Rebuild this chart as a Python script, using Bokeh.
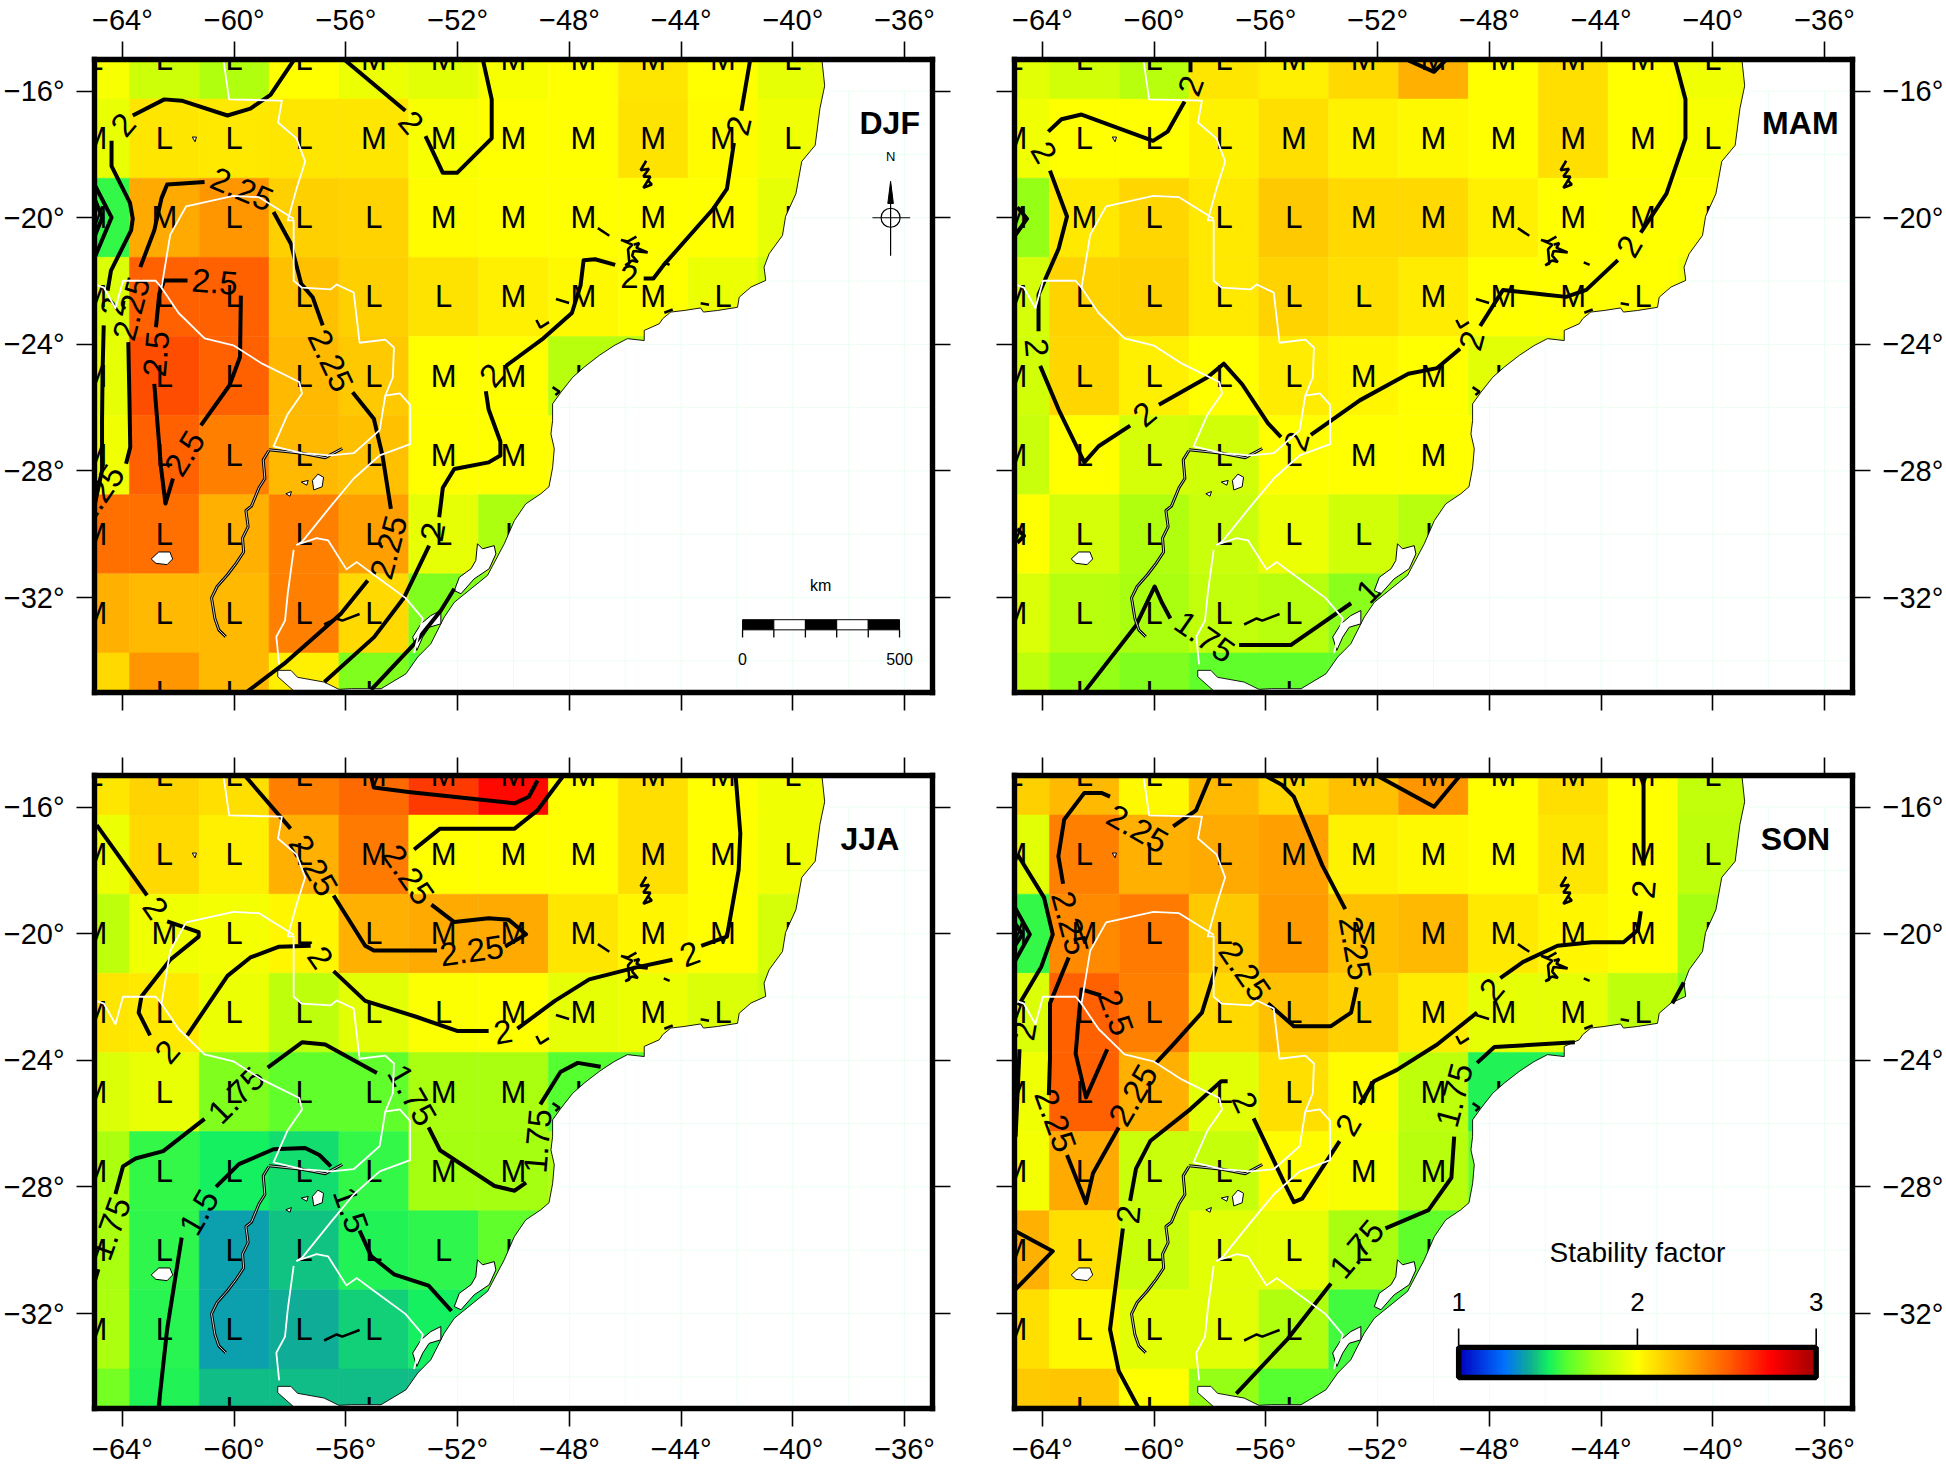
import numpy as np
from bokeh.plotting import figure
from bokeh.layouts import column, row
from bokeh.models import (ColumnDataSource, LinearAxis, FixedTicker, LinearColorMapper, Range1d)
from bokeh.transform import transform
from bokeh.core.properties import value
from bokeh.embed import file_html
from bokeh.resources import INLINE

FONT = "Liberation Sans"

LONS = [-65, -62.5, -60, -57.5, -55, -52.5, -50, -47.5, -45, -42.5, -40]
LATS = [-15, -17.5, -20, -22.5, -25, -27.5, -30, -32.5, -35]
X_TICKS = [-64, -60, -56, -52, -48, -44, -40, -36]
Y_TICKS = [-16, -20, -24, -28, -32]

DJF = [
 [1.98,1.86,1.78,2.00,1.95,1.92,1.98,2.00,2.08,2.00,1.93],
 [1.94,2.08,2.07,2.08,2.08,1.98,2.00,2.00,2.09,2.01,1.96],
 [1.55,2.27,2.33,2.15,2.14,2.01,2.00,2.00,2.00,2.00,1.93],
 [1.90,2.50,2.50,2.20,2.15,2.09,2.05,2.02,2.00,1.95,1.87],
 [1.93,2.55,2.50,2.22,2.17,2.00,2.00,1.80,1.80,1.80,1.80],
 [1.96,2.50,2.40,2.22,2.20,2.00,2.00,2.00,2.00,2.00,2.00],
 [2.45,2.45,2.25,2.40,2.30,1.93,1.77,1.77,1.77,1.77,1.77],
 [2.25,2.22,2.22,2.40,2.12,1.68,1.68,1.68,1.68,1.68,1.68],
 [2.12,2.33,2.22,2.05,1.68,1.60,1.60,1.60,1.60,1.60,1.60],
]
MAM = [
 [1.92,1.87,1.80,2.08,2.05,2.12,2.25,2.00,2.10,2.00,1.96],
 [1.96,2.00,2.00,2.04,2.10,2.04,2.02,2.00,2.10,2.00,1.98],
 [1.72,2.07,2.13,2.07,2.17,2.12,2.12,2.05,2.00,2.00,2.00],
 [1.88,2.14,2.15,2.07,2.14,2.10,2.06,2.00,2.00,2.00,1.96],
 [1.87,2.13,2.05,2.00,2.06,2.03,2.00,1.92,1.92,1.92,1.92],
 [1.85,2.00,1.88,1.87,2.00,2.00,2.00,2.00,2.00,2.00,2.00],
 [2.00,1.88,1.78,1.85,1.95,1.87,1.80,1.80,1.80,1.80,1.80],
 [1.90,1.80,1.76,1.83,1.80,1.70,1.70,1.70,1.70,1.70,1.70],
 [1.82,1.72,1.68,1.62,1.62,1.62,1.62,1.62,1.62,1.62,1.62],
]
JJA = [
 [2.08,2.14,2.10,2.40,2.47,2.60,2.73,2.00,2.10,2.00,1.96],
 [1.95,2.12,2.05,2.25,2.42,2.00,2.00,2.00,2.10,2.00,1.96],
 [1.82,1.96,1.97,2.03,2.25,2.27,2.27,2.08,2.03,2.00,1.88],
 [2.08,2.07,1.95,1.82,1.92,1.99,2.00,1.93,1.95,1.90,1.85],
 [1.90,1.94,1.68,1.62,1.62,1.76,1.76,1.60,1.60,1.60,1.60],
 [1.77,1.55,1.50,1.47,1.55,1.75,1.75,1.78,1.78,1.78,1.78],
 [1.76,1.54,1.36,1.43,1.52,1.54,1.62,1.62,1.62,1.62,1.62],
 [1.77,1.53,1.36,1.39,1.45,1.50,1.50,1.50,1.50,1.50,1.50],
 [1.66,1.52,1.42,1.42,1.42,1.42,1.42,1.42,1.42,1.42,1.42],
]
SON = [
 [2.15,2.22,2.02,2.22,2.13,2.20,2.33,2.00,2.10,2.00,1.83],
 [1.92,2.40,2.25,2.27,2.30,2.04,2.02,2.00,2.08,2.00,1.82],
 [1.55,2.37,2.42,2.17,2.32,2.20,2.22,2.07,2.03,2.00,1.75],
 [1.90,2.50,2.40,2.12,2.20,2.15,2.06,1.93,1.93,1.82,1.70],
 [1.96,2.50,2.25,1.92,2.10,2.01,1.82,1.52,1.52,1.52,1.52],
 [1.97,2.27,1.85,1.84,2.01,1.98,1.80,1.65,1.65,1.65,1.65],
 [2.25,2.10,1.85,1.92,1.93,1.76,1.62,1.62,1.62,1.62,1.62],
 [2.10,2.02,1.92,1.92,1.78,1.57,1.57,1.57,1.57,1.57,1.57],
 [2.17,2.18,2.00,1.72,1.60,1.60,1.60,1.60,1.60,1.60,1.60],
]
GRID_LETTERS = [
 "LLLLMMMMMML",
 "MLLLMMMMMML",
 "MMLLLMMMMML",
 "MLLLLLMMMLL",
 "MLLLLMML   ",
 "MLLLLMM    ",
 "MLLLLLL    ",
 "MLLLL      ",
 "LLLLL      ",
]

CMAP_VALUES = [1.0, 1.25, 1.4, 1.5, 1.6, 1.75, 2.0, 2.25, 2.5, 2.75, 3.0]
CMAP_COLORS = ["#0000c0", "#0070ff", "#10b090", "#14f060", "#55ff30", "#a5ff10", "#ffff00", "#ffb000", "#ff6000", "#ff0000", "#a00000"]

COAST = [(-38.96,-15.0),(-38.86,-15.83),(-39.03,-16.55),(-39.2,-17.71),(-39.68,-18.22),(-39.89,-19.24),(-40.26,-19.96),
 (-40.37,-20.56),(-40.85,-21.14),(-41.03,-21.56),(-40.97,-21.98),(-41.5,-22.19),(-41.92,-22.51),(-41.98,-22.83),(-42.7,-22.93),
 (-43.2,-22.98),(-43.3,-22.85),(-43.89,-22.93),(-44.37,-22.98),(-44.66,-23.19),(-44.78,-23.35),(-45.32,-23.56),(-45.32,-23.88),(-45.92,-23.82),
 (-46.4,-24.04),(-46.93,-24.35),(-47.47,-24.72),(-47.88,-25.04),(-48.3,-25.51),(-48.6,-25.88),(-48.6,-26.41),(-48.66,-26.83),
 (-48.54,-27.3),(-48.6,-27.9),(-48.73,-28.5),(-49.02,-28.72),(-49.56,-29.04),(-49.97,-29.57),(-50.33,-30.3),(-50.93,-31.3),
 (-52.12,-32.15),(-52.48,-32.62),(-52.96,-33.46),(-53.43,-33.88),(-53.85,-34.41),(-54.74,-34.88),(-55.8,-34.88),(-56.25,-34.9),
 (-56.78,-34.67),(-57.73,-34.52),(-57.97,-34.3),(-58.44,-34.3),(-58.44,-34.5),(-57.8,-35.0)]
PATOS = [(-51.29,-30.30),(-51.11,-30.46),(-50.69,-30.36),(-50.63,-30.62),(-50.87,-31.09),(-51.41,-31.41),(-51.88,-31.88),(-52.12,-31.78),(-51.94,-31.36),(-51.52,-31.09),(-51.35,-30.83)]
MIRIM = [(-52.6,-32.41),(-52.6,-32.83),(-53.02,-32.94),(-53.25,-33.25),(-53.46,-33.67),(-53.61,-33.25),(-53.31,-32.83),(-52.96,-32.57)]
MAR_CHIQUITA = [(-62.97,-30.78),(-62.7,-30.56),(-62.3,-30.56),(-62.2,-30.78),(-62.4,-30.96),(-62.8,-30.92)]
IBERA = [[(-57.2,-28.3),(-57.0,-28.1),(-56.8,-28.2),(-56.85,-28.5),(-57.15,-28.6)], [(-57.6,-28.35),(-57.35,-28.3),(-57.4,-28.45)], [(-58.15,-28.72),(-57.95,-28.65),(-58.0,-28.8)]]
SMALL_LAKE = [(-61.5,-17.45),(-61.35,-17.45),(-61.4,-17.6)]
RIVERS = [
 [(-58.76,-27.36),(-58.96,-27.65),(-58.9,-28.24),(-59.11,-28.53),(-59.38,-29.11),(-59.58,-29.25),(-59.5,-29.76),(-59.7,-30.12),(-59.66,-30.56),(-59.93,-30.92),(-60.24,-31.28),(-60.61,-31.65),(-60.81,-32.01),(-60.69,-32.66),(-60.55,-33.02),(-60.3,-33.24)],
 [(-58.76,-27.33),(-57.57,-27.44),(-56.74,-27.58),(-56.13,-27.29)],
]
RESERVOIRS = [
 [(-45.25,-18.2),(-45.45,-18.5),(-45.15,-18.45),(-45.35,-18.7),(-45.1,-18.7),(-45.35,-19.05),(-45.05,-18.95),(-45.2,-18.8)],
 [(-45.6,-20.6),(-45.9,-20.75),(-46.15,-20.7),(-45.75,-20.85),(-45.9,-21.0),(-45.85,-21.45),(-46.0,-21.5),(-45.75,-21.35),(-45.55,-21.4),(-45.75,-21.2),(-45.7,-21.05),(-45.2,-21.1),(-45.6,-20.95),(-45.5,-20.8),(-45.7,-20.85)],
 [(-46.98,-20.33),(-46.57,-20.57)],
 [(-44.62,-21.41),(-44.41,-21.49)],
 [(-48.48,-22.57),(-48.01,-22.69)],
 [(-49.18,-23.23),(-49.04,-23.47),(-48.73,-23.3)],
 [(-56.78,-32.85),(-56.33,-32.66),(-56.13,-32.73),(-55.51,-32.52)],
 [(-48.6,-25.35),(-48.35,-25.5),(-48.5,-25.6)],
 [(-44.6,-23.0),(-44.3,-22.9)],
 [(-43.0,-22.75),(-43.3,-22.7)],
]
BORDERS = [
 [(-60.38,-15.03),(-60.18,-16.26),(-58.29,-16.3),(-58.43,-16.99),(-57.77,-17.49),(-57.46,-18.22),(-57.77,-19.09),(-58.08,-20.08),(-57.87,-20.08),(-57.87,-20.98),(-57.87,-21.99),(-57.57,-22.21),(-56.54,-22.26),(-56.33,-22.11),(-55.72,-22.36),(-55.51,-23.95),(-54.59,-23.85),(-54.28,-24.1),(-54.32,-25.04),(-54.59,-25.62),(-54.07,-25.55),(-53.7,-25.91),(-53.7,-27.15),(-54.79,-27.51),(-55.72,-28.24),(-56.54,-29.11),(-57.57,-30.24),(-57.77,-30.34)],
 [(-57.87,-20.03),(-59.11,-19.35),(-60.03,-19.31),(-61.72,-19.64),(-62.29,-20.54),(-62.6,-22.21),(-62.81,-21.99),(-63.98,-21.99),(-64.25,-22.86),(-64.66,-22.21),(-64.97,-22.11)],
 [(-62.6,-22.21),(-61.99,-23.01),(-61.06,-23.81),(-60.03,-24.03),(-59.0,-24.61),(-57.67,-25.19),(-57.57,-25.55),(-58.08,-26.2),(-58.59,-27.22),(-57.57,-27.44),(-56.54,-27.51),(-55.72,-27.44),(-54.79,-26.71),(-54.59,-25.62)],
 [(-57.77,-30.34),(-57.05,-30.12),(-56.64,-30.19),(-55.98,-31.11),(-55.61,-30.88),(-55.0,-31.28),(-53.87,-32.01),(-53.25,-32.66),(-53.56,-33.75)],
 [(-57.87,-30.49),(-58.08,-31.86),(-58.18,-32.73),(-58.49,-33.24),(-58.39,-34.11)],
]

DJF_LINES = [
 [(-63.63,-16.77),(-62.5,-16.26),(-61.88,-16.30),(-60.24,-16.77),(-59.42,-16.55),(-58.7,-16.12),(-57.87,-15.03)],
 [(-64.39,-17.57),(-64.39,-18.37),(-63.73,-19.53),(-63.63,-20.03),(-63.69,-20.4),(-64.41,-21.67),(-64.53,-22.3)],
 [(-64.67,-23.4),(-64.71,-24.83),(-64.73,-26.4),(-64.73,-27.98),(-65.0,-29.1)],
 [(-63.79,-23.93),(-63.75,-25.67),(-63.72,-27.25),(-63.87,-27.77)],
 [(-63.36,-21.56),(-62.86,-20.4),(-62.6,-19.38),(-62.4,-18.95),(-61.06,-18.87)],
 [(-58.59,-19.82),(-57.97,-20.82),(-57.6,-22.09),(-57.19,-22.51),(-56.83,-23.4)],
 [(-55.76,-25.51),(-55.0,-26.35),(-54.69,-27.51),(-54.39,-29.2)],
 [(-55.22,-31.46),(-56.18,-32.51),(-58.21,-34.09),(-59.52,-34.96)],
 [(-61.67,-21.98),(-62.5,-21.98),(-62.68,-22.4),(-62.8,-23.46)],
 [(-62.86,-25.25),(-62.62,-27.88),(-62.46,-29.03),(-62.19,-28.24)],
 [(-59.76,-22.46),(-59.79,-24.4),(-60.17,-25.3),(-61.19,-26.56)],
 [(-56.02,-15.03),(-53.87,-16.62)],
 [(-53.15,-17.42),(-52.53,-18.58),(-52.02,-18.58),(-50.78,-17.49),(-50.78,-16.26),(-51.09,-15.03)],
 [(-52.66,-29.46),(-52.53,-28.53),(-52.12,-27.94),(-50.89,-27.73),(-50.47,-27.51),(-50.47,-27.07),(-50.89,-26.06),(-50.99,-25.48)],
 [(-50.27,-24.68),(-48.93,-23.81),(-47.91,-23.01),(-47.6,-22.14),(-47.49,-21.34),(-47.08,-21.31),(-46.36,-21.49)],
 [(-45.34,-21.92),(-44.99,-21.92),(-44.62,-21.49),(-42.87,-19.74),(-42.36,-19.09),(-42.11,-17.64)],
 [(-41.84,-16.62),(-41.53,-15.03)],
 [(-53.02,-30.36),(-53.91,-31.99),(-54.99,-33.25),(-56.77,-34.67)],
 [(-55.1,-34.92),(-53.55,-33.46),(-52.6,-32.41),(-52.12,-31.72)],
 [(-65.0,-18.95),(-64.39,-19.99),(-65.0,-21.27)],
 [(-65.0,-19.4),(-64.72,-19.99),(-65.0,-20.6)],
]
DJF_LABELS = [
 ("2",-63.98,-17.06,50),("2.25",-59.72,-19.09,-23),("2.5",-60.69,-22.02,-5),("2.25",-63.69,-22.87,75),("2.5",-62.8,-24.3,85),
 ("2.5",-61.78,-27.44,58),("2.25",-64.86,-28.74,55),("2.25",-56.54,-24.51,-65),("2.25",-54.48,-30.41,75),
 ("2",-53.66,-16.99,-50),("2",-50.78,-24.97,50),("2",-41.94,-17.09,77),("2",-45.85,-21.85,0),("2",-52.9,-29.93,80),("2",-64.35,-22.8,80),
]
MAM_LINES = [
 [(-63.79,-17.28),(-63.32,-16.89),(-62.6,-16.74),(-60.04,-17.57),(-59.52,-17.28),(-58.91,-16.33)],
 [(-58.7,-15.4),(-58.7,-15.03)],
 [(-63.73,-18.51),(-63.12,-19.96),(-63.42,-20.98),(-64.14,-22.43),(-64.14,-23.59)],
 [(-64.08,-24.68),(-63.42,-26.06),(-62.5,-27.73),(-61.99,-27.22),(-60.86,-26.57)],
 [(-59.83,-25.91),(-58.09,-25.04),(-57.51,-24.61),(-56.85,-25.26),(-55.93,-26.49),(-55.46,-26.93)],
 [(-54.39,-26.86),(-52.64,-25.77),(-50.9,-24.93),(-49.87,-24.75),(-49.05,-24.14)],
 [(-48.33,-23.42),(-47.51,-22.28),(-45.97,-22.43),(-45.25,-22.5),(-44.53,-22.28),(-43.4,-21.34)],
 [(-42.58,-20.47),(-41.66,-19.24),(-40.98,-17.49),(-40.98,-16.26),(-41.35,-15.03)],
 [(-62.5,-34.98),(-60.65,-32.88),(-59.98,-31.65),(-59.73,-32.15),(-59.42,-32.66)],
 [(-56.96,-33.5),(-55.11,-33.5),(-52.95,-32.18)],
 [(-50.9,-15.03),(-49.98,-15.39),(-49.57,-15.03)],
 [(-64.9,-19.67),(-64.55,-20.03),(-64.96,-20.54)],
 [(-64.9,-29.83),(-64.66,-30.05),(-64.9,-30.27)],
]
MAM_LABELS = [
 ("2",-58.7,-15.83,70),("2",-63.94,-17.93,-60),("2",-64.2,-24.1,-85),("2",-60.35,-26.2,40),("2",-54.9,-27.07,75),("2",-48.64,-23.88,75),
 ("2",-43.0,-20.9,60),("1.75",-58.19,-33.24,-35),("1",-52.34,-31.79,45),
]
JJA_LINES = [
 [(-64.92,-16.57),(-63.12,-18.79)],
 [(-62.4,-19.61),(-61.27,-19.95),(-61.27,-20.09),(-62.29,-20.82),(-63.32,-21.98),(-63.42,-22.49),(-63.01,-23.21)],
 [(-61.68,-23.21),(-60.24,-21.33),(-59.42,-20.75),(-58.39,-20.41),(-57.26,-20.38)],
 [(-56.44,-21.18),(-55.31,-22.12),(-53.46,-22.63),(-52.02,-23.07),(-50.89,-23.07)],
 [(-49.86,-23.0),(-48.52,-22.12),(-47.29,-21.44),(-45.64,-21.07),(-44.31,-20.82)],
 [(-43.28,-20.38),(-42.36,-20.09),(-41.94,-17.99),(-41.88,-16.83),(-42.05,-15.0)],
 [(-59.62,-15.0),(-57.98,-16.68)],
 [(-56.44,-18.79),(-55.31,-20.38),(-55.0,-20.53),(-52.74,-20.53)],
 [(-50.3,-20.4),(-49.55,-20.02),(-50.17,-19.56),(-50.89,-19.51),(-52.12,-19.63),(-52.94,-19.08)],
 [(-53.56,-17.34),(-52.63,-16.68),(-49.96,-16.68),(-49.14,-16.1),(-48.21,-15.0)],
 [(-55.1,-15.0),(-55.0,-15.38),(-53.76,-15.52),(-49.96,-15.88),(-49.45,-15.67),(-49.14,-15.16)],
 [(-64.25,-28.22),(-63.98,-27.35),(-63.53,-27.1),(-62.54,-26.87),(-61.06,-25.85)],
 [(-58.8,-24.23),(-57.57,-23.43),(-56.74,-23.5),(-54.89,-24.4)],
 [(-53.04,-26.12),(-52.63,-26.84),(-50.68,-27.97),(-49.96,-28.12),(-49.55,-27.86)],
 [(-49.04,-25.39),(-48.32,-24.37),(-47.7,-24.08),(-46.88,-24.2)],
 [(-64.86,-30.6),(-65.0,-31.0)],
 [(-62.71,-35.0),(-62.4,-32.5),(-61.88,-29.6)],
 [(-60.65,-28.0),(-59.83,-27.28),(-58.59,-26.81),(-57.46,-26.77),(-56.95,-26.99),(-56.54,-27.35)],
 [(-55.51,-29.38),(-55.1,-30.18),(-54.28,-30.76),(-53.04,-31.12),(-52.22,-31.92)],
]
JJA_LABELS = [
 ("2",-62.81,-19.18,-55),("2",-62.4,-23.72,50),("2",-56.91,-20.75,-55),("2",-50.37,-23.1,10),("2",-43.69,-20.63,20),
 ("2.25",-57.16,-17.84,-60),("2.25",-51.5,-20.53,8),("2.25",-53.76,-18.13,-55),("1.75",-59.93,-25.1,45),("1.75",-53.62,-25.1,-60),
 ("1.75",-49.14,-26.55,85),("1.75",-64.45,-29.31,70),("1.5",-61.27,-28.8,60),("1.5",-55.82,-28.73,-70),
]
SON_LINES = [
 [(-61.58,-15.67),(-61.89,-15.55),(-62.5,-15.55),(-63.22,-16.39),(-63.43,-17.55),(-63.26,-18.42)],
 [(-63.06,-20.75),(-63.73,-22.2),(-63.73,-23.94),(-63.77,-25.1)],
 [(-63.12,-26.99),(-62.44,-28.51),(-62.19,-27.57),(-61.27,-26.12)],
 [(-59.93,-24.08),(-59.32,-23.5),(-58.29,-22.49),(-57.78,-21.04)],
 [(-59.32,-16.61),(-58.5,-16.1),(-57.98,-15.0)],
 [(-55.93,-22.2),(-55.0,-22.92),(-53.67,-22.92),(-52.95,-22.49),(-52.75,-21.69)],
 [(-53.16,-19.22),(-53.98,-17.84),(-55.0,-15.67),(-55.42,-15.3),(-56.03,-15.0)],
 [(-61.9,-21.95),(-62.6,-21.76),(-62.7,-22.63),(-62.81,-23.79),(-62.44,-25.17),(-61.68,-23.65)],
 [(-64.9,-17.48),(-63.94,-18.86),(-63.63,-20.02),(-64.04,-21.04),(-64.86,-22.27)],
 [(-65.0,-19.15),(-64.45,-20.02),(-65.0,-20.89)],
 [(-65.0,-19.65),(-64.72,-20.02),(-65.0,-20.4)],
 [(-64.82,-23.65),(-64.96,-26.41)],
 [(-65.0,-29.38),(-63.63,-30.03),(-65.0,-31.27)],
 [(-52.03,-15.0),(-49.98,-15.99),(-49.05,-15.0)],
 [(-42.48,-15.0),(-42.48,-17.84)],
 [(-42.58,-19.29),(-42.68,-19.88),(-43.2,-20.27),(-44.33,-20.27),(-45.56,-20.38),(-46.79,-20.89),(-47.61,-21.4)],
 [(-48.44,-22.49),(-49.87,-23.5),(-51.31,-24.3),(-52.13,-24.66),(-52.64,-25.39)],
 [(-53.36,-26.55),(-54.7,-28.37),(-55.0,-28.48),(-55.31,-27.93),(-56.44,-25.83)],
 [(-57.37,-24.66),(-57.6,-24.66),(-58.7,-25.54),(-60.14,-26.55),(-60.65,-27.42),(-60.86,-28.44)],
 [(-61.12,-29.31),(-61.58,-32.5),(-61.27,-33.81),(-60.55,-35.0)],
 [(-57.06,-34.53),(-55.21,-32.79),(-53.67,-31.05)],
 [(-51.72,-29.31),(-50.18,-28.73),(-49.36,-27.71),(-49.26,-26.41)],
 [(-48.44,-24.08),(-47.82,-23.58),(-44.94,-23.43)],
 [(-41.04,-21.54),(-41.45,-22.2)],
]
SON_LABELS = [
 ("2.25",-60.59,-16.68,-30),("2.25",-63.01,-19.66,-75),("2.25",-63.53,-25.9,-70),("2.25",-60.76,-25.1,60),("2.25",-56.75,-21.18,-55),
 ("2.25",-52.8,-20.46,-80),("2.5",-61.37,-22.49,-70),("2",-64.66,-23.07,80),("2",-42.48,-18.6,85),("2",-47.92,-21.76,50),("2",-53.06,-26.04,60),
 ("2",-56.75,-25.32,-65),("2",-60.92,-28.87,85),("1.75",-52.75,-29.96,50),("1.75",-49.26,-25.1,75),
]

SCALE_EDGES = [-41.8, -40.68, -39.55, -38.43, -37.3, -36.18]
SCALE_FILL = ["black", "white", "black", "white", "black"]

palette = []
for t in np.linspace(1.0, 3.0, 401):
    rgb = []
    for k in range(3):
        chan = [int(c[1 + 2 * k:3 + 2 * k], 16) for c in CMAP_COLORS]
        rgb.append(int(round(np.interp(t, CMAP_VALUES, chan))))
    palette.append("#%02x%02x%02x" % tuple(rgb))
mapper = LinearColorMapper(palette=palette, low=1.0, high=3.0)


def split(lines):
    return [[p[0] for p in l] for l in lines], [[p[1] for p in l] for l in lines]


def tick_text(ticks):
    return {t: "\u2212%d\u00b0" % abs(t) for t in ticks}


def make_panel(values, lines, labels, name, name_lon, name_lat, left, right, top, bottom, shown):
    p = figure(width=left + 838 + right, height=top + 633 + bottom, output_backend="svg", toolbar_location=None,
               x_range=Range1d(-65, -35), y_range=Range1d(-35, -15), x_axis_location=None, y_axis_location=None,
               min_border_left=left, min_border_right=right, min_border_top=top, min_border_bottom=bottom)
    p.grid.visible = False
    p.background_fill_color = "white"
    p.outline_line_color = None

    # cells
    xs, ys, vs = [], [], []
    for j, lat in enumerate(LATS):
        for i, lon in enumerate(LONS):
            xs.append(lon); ys.append(lat); vs.append(values[j][i])
    src = ColumnDataSource(dict(x=xs, y=ys, v=vs))
    p.rect("x", "y", width=2.5, height=2.5, source=src, fill_color=transform("v", mapper),
           line_color=transform("v", mapper), line_width=0.5)

    # L / M letters
    tx, ty, tt = [], [], []
    for j, lat in enumerate(LATS):
        for i, lon in enumerate(LONS):
            ch = GRID_LETTERS[j][i]
            if ch != " ":
                tx.append(lon); ty.append(lat); tt.append(ch)
    p.text(tx, ty, text=tt, text_font=value(FONT), text_font_size="31px", text_align="center", text_baseline="middle", text_color="black")

    # ocean
    cx = [c[0] for c in COAST]
    cy = [c[1] for c in COAST]
    p.patch(cx + [-57.8, -34, -34, -38.96], cy + [-36, -36, -14, -14], fill_color="white", line_color="black", line_width=0.9)

    # faint graticule on the sea
    order_lat = np.argsort(cy[:46])
    order_lon = np.argsort(cx[:46])
    c_y = np.array(cy[:46]); c_x = np.array(cx[:46])
    gx, gy = [], []
    for lat in range(-34, -14, 2):
        gx.append([float(np.interp(lat, c_y[order_lat], c_x[order_lat])) + 0.15, -35]); gy.append([lat, lat])
    for lon in range(-52, -34, 2):
        gx.append([lon, lon]); gy.append([-35, float(np.interp(lon, c_x[order_lon], c_y[order_lon])) - 0.15])
    p.multi_line(gx, gy, line_color="#eafff2", line_width=1)

    # lakes
    for poly in [PATOS, MIRIM, MAR_CHIQUITA, SMALL_LAKE] + IBERA:
        p.patch([q[0] for q in poly], [q[1] for q in poly], fill_color="white", line_color="black", line_width=1)
    rx, ry = split(RESERVOIRS)
    p.multi_line(rx, ry, line_color="black", line_width=2.6)

    # contours
    lx, ly = split(lines)
    p.multi_line(lx, ly, line_color="black", line_width=4, line_join="round")
    lab = ColumnDataSource(dict(x=[l[1] for l in labels], y=[l[2] for l in labels], t=[l[0] for l in labels], a=[l[3] for l in labels]))
    p.text("x", "y", text="t", angle="a", angle_units="deg", source=lab, text_font=value(FONT), text_font_size="33px",
           text_align="center", text_baseline="middle", text_color="black")

    # rivers and borders
    vx, vy = split(RIVERS)
    p.multi_line(vx, vy, line_color="black", line_width=3)
    p.multi_line(vx, vy, line_color="white", line_width=0.8)
    bx, by = split(BORDERS)
    p.multi_line(bx, by, line_color="white", line_width=1.8, line_join="round")

    # season
    p.text([name_lon], [name_lat], text=[name], text_font=value(FONT), text_font_size="32px", text_font_style="bold",
           text_align="right", text_baseline="middle", text_color="black")

    # frame, ticks and tick labels: one axis on each side
    for side, ticks in (("above", X_TICKS), ("below", X_TICKS), ("left", Y_TICKS), ("right", Y_TICKS)):
        on = side in shown
        ax = LinearAxis(ticker=FixedTicker(ticks=ticks),
                        major_label_overrides=tick_text(ticks) if on else {t: "" for t in ticks})
        ax.axis_line_color = "black"
        ax.axis_line_width = 5.4
        ax.axis_line_cap = "square"
        ax.major_tick_in = 0
        ax.major_tick_out = 18
        ax.major_tick_line_width = 1.6
        ax.minor_tick_line_color = None
        ax.major_label_text_font = FONT
        ax.major_label_text_font_size = "29px" if on else "1px"
        ax.major_label_text_color = "black"
        if side == "above":
            ax.major_label_standoff = 6 if on else 0
            ax.major_label_text_baseline = "bottom"
        elif side == "below":
            ax.major_label_standoff = 6 if on else 0
            ax.major_label_text_baseline = "top"
        else:
            ax.major_label_standoff = 12 if on else 0
        p.add_layout(ax, side)
    return p


p1 = make_panel(DJF, DJF_LINES, DJF_LABELS, "DJF", -35.45, -17.0, 94, 41, 59, 40, ("left", "above"))
p2 = make_panel(MAM, MAM_LINES, MAM_LABELS, "MAM", -35.5, -17.0, 41, 94, 59, 40, ("right", "above"))
p3 = make_panel(JJA, JJA_LINES, JJA_LABELS, "JJA", -36.19, -17.0, 94, 41, 43, 60, ("left", "below"))
p4 = make_panel(SON, SON_LINES, SON_LABELS, "SON", -35.8, -17.0, 41, 94, 43, 60, ("right", "below"))

# north arrow and scale bar (DJF)
p1.line([-36.5, -36.5], [-18.95, -21.2], line_color="black", line_width=1.2)
p1.line([-37.15, -35.8], [-20, -20], line_color="black", line_width=1.2)
p1.patch([-36.5, -36.6, -36.4], [-18.85, -19.55, -19.55], fill_color="black", line_color="black")
p1.scatter([-36.5], [-20], marker="circle", size=19, fill_color=None, line_color="black", line_width=1.2)
p1.text([-36.5], [-18.05], text=["N"], text_font=value(FONT), text_font_size="13px", text_align="center", text_baseline="middle")
p1.quad(left=SCALE_EDGES[:-1], right=SCALE_EDGES[1:], top=-32.70, bottom=-33.02, fill_color=SCALE_FILL, line_color="black", line_width=1)
p1.segment(x0=SCALE_EDGES, x1=SCALE_EDGES, y0=[-33.02] * 6, y1=[-33.26] * 6, line_color="black", line_width=1.3)
p1.text([-41.8, -36.18], [-33.93, -33.93], text=["0", "500"], text_font=value(FONT), text_font_size="16px", text_align="center", text_baseline="middle")
p1.text([-39.0], [-31.62], text=["km"], text_font=value(FONT), text_font_size="16px", text_align="center", text_baseline="middle")

# colour bar (SON)
CB_LEFT, CB_RIGHT = -49.1, -36.3
bar = np.linspace(1.0, 3.0, 400).reshape(1, -1)
p4.image(image=[bar], x=CB_LEFT, y=-34.02, dw=CB_RIGHT - CB_LEFT, dh=0.95, color_mapper=mapper)
p4.quad(left=[CB_LEFT], right=[CB_RIGHT], top=[-33.07], bottom=[-34.02], fill_color=None, line_color="black", line_width=5.4)
CB_TICKS = [1, 2, 3]
cb_x = [CB_LEFT + (t - 1) / 2 * (CB_RIGHT - CB_LEFT) for t in CB_TICKS]
p4.segment(x0=cb_x, x1=cb_x, y0=[-32.47] * 3, y1=[-33.0] * 3, line_color="black", line_width=1.6)
p4.text(cb_x, [-31.64] * 3, text=[str(t) for t in CB_TICKS], text_font=value(FONT), text_font_size="26px", text_align="center", text_baseline="middle")
p4.text([-42.7], [-30.06], text=["Stability factor"], text_font=value(FONT), text_font_size="28px", text_align="center", text_baseline="middle")

layout = column(row(p1, p2, spacing=0), row(p3, p4, spacing=0), spacing=0)
open("out.html", "w").write(file_html(layout, INLINE))
